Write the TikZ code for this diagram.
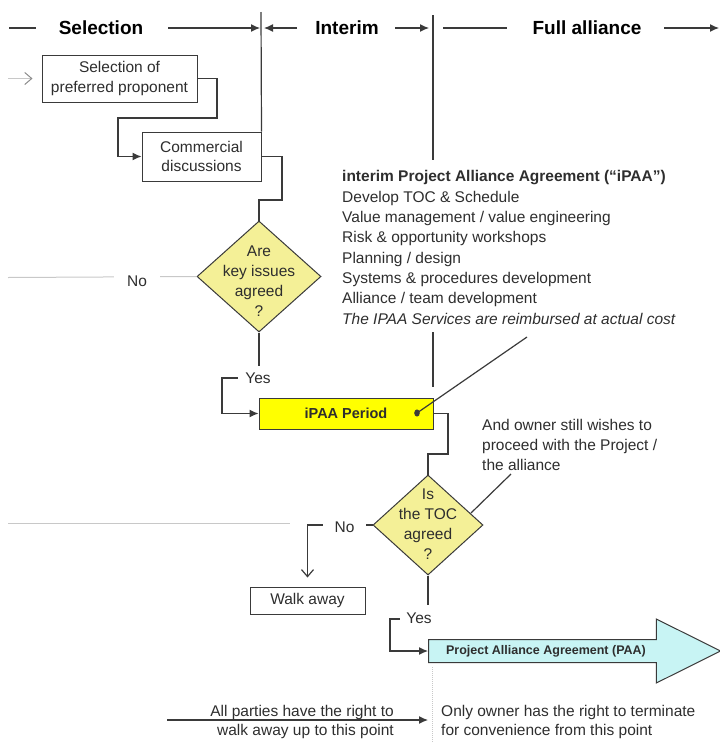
\documentclass[tikz,border=0pt]{standalone}
\usepackage{fontspec}
\setmainfont{Liberation Sans}
\usetikzlibrary{shapes.geometric,shapes.arrows,arrows.meta}
\definecolor{ink}{HTML}{2E2E2E}
\definecolor{edge}{HTML}{3A3A3A}
\definecolor{faint}{HTML}{C8C8C8}
\definecolor{entrytip}{HTML}{8A8A8A}
\definecolor{decfill}{HTML}{F4F097}
\definecolor{periodfill}{HTML}{FFFF00}
\definecolor{paafill}{HTML}{C8F4F4}
\newcommand\sz[2]{\fontsize{#1}{#2}\selectfont}

\begin{document}
\begin{tikzpicture}[x=1pt,y=-1pt,
  every node/.style={text=ink, inner sep=0pt},
  phase/.style={font=\bfseries\sz{19}{22}, text=black},
  stepbox/.style={draw=edge, line width=1pt, fill=white, align=center, font=\sz{15.5}{19.5}},
  decision/.style={diamond, draw=edge, line width=1pt, fill=decfill},
  dectext/.style={align=center, font=\sz{15.5}{19.8}},
  note/.style={align=left, font=\sz{15.5}{20.3}},
  answer/.style={fill=white, font=\sz{15.5}{18}},
  link/.style={draw=edge, line width=1.2pt},
  flow/.style={link, -{Latex[length=9pt,width=8pt]}},
  barb/.style={-{Straight Barb[length=7pt,width=12pt]}},
  faintline/.style={draw=faint, line width=1pt},
  hdrline/.style={draw=edge, line width=1.2pt},
  hdrtip/.style={-{Latex[length=9pt,width=8pt]}},
]
\useasboundingbox (0,0) rectangle (720,742);

% ---- phase headings ----
\node[phase] (hsel) at (101,28) {Selection};
\node[phase] (hint) at (347,28) {Interim};
\node[phase] (hfull) at (587,28) {Full alliance};

\coordinate (hl0) at (9,28);   \coordinate (hl1) at (36,28);
\coordinate (hs1) at (168,28); \coordinate (hs2) at (260,28);
\coordinate (hi1) at (264,28); \coordinate (hi2) at (297,28);
\coordinate (hi3) at (395,28); \coordinate (hi4) at (429,28);
\coordinate (hf1) at (443,28); \coordinate (hf2) at (507,28);
\coordinate (hf3) at (664,28); \coordinate (hf4) at (719,28);

\draw[hdrline] (hl0) -- (hl1);
\draw[hdrline, hdrtip] (hs1) -- (hs2);
\draw[hdrline, hdrtip] (hi2) -- (hi1);
\draw[hdrline, hdrtip] (hi3) -- (hi4);
\draw[hdrline] (hf1) -- (hf2);
\draw[hdrline, hdrtip] (hf3) -- (hf4);

% ---- process boxes ----
\node[stepbox, minimum width=155pt, minimum height=47pt] (sel) at (119.5,78.5) {Selection of\\preferred proponent};
\node[stepbox, minimum width=119pt, minimum height=49pt] (comm) at (201.5,156.5) {Commercial\\discussions};
\node[decision, minimum width=124pt, minimum height=111pt] (d1) at (259,276.5) {};
\node[dectext] (d1text) at (259,281) {Are\\key issues\\agreed\\?};
\node[stepbox, fill=periodfill, minimum width=174pt, minimum height=31pt, font=\bfseries\sz{14.5}{17}] (ipaa) at (346,413.5) {iPAA Period};
\node[decision, minimum width=110pt, minimum height=100pt] (d2) at (428,525) {};
\node[dectext] (d2text) at (428,524) {Is\\the TOC\\agreed\\?};
\node[stepbox, minimum width=115pt, minimum height=27pt] (walk) at (307.5,600.5) {Walk away};
\node[single arrow, draw=edge, line width=1pt, fill=paafill, minimum height=292pt,
      single arrow head extend=20.5pt, single arrow tip angle=53, inner ysep=11pt,
      anchor=tail] (paa) at (428,651) {};
\node[font=\bfseries\sz{12.5}{15}] (paatext) at (546,651) {Project Alliance Agreement (PAA)};

% ---- phase dividers ----
\coordinate (dA0) at (261,12);
\coordinate (dB0) at (433,15); \coordinate (dB1) at (433,160);
\coordinate (dB2) at (433,332); \coordinate (dB3) at (433,387);
\coordinate (dB4) at (432,667); \coordinate (dB5) at (432,742);
\draw[hdrline] (dA0) -- (comm.north east);
\draw[hdrline] (dB0) -- (dB1);
\draw[hdrline] (dB2) -- (dB3);
\draw[draw=faint, line width=1pt, densely dotted] (dB4) -- (dB5);

% ---- flow ----
\coordinate (entry) at (8,78.5);
\draw[faintline, -{Straight Barb[length=7pt,width=12pt,color=entrytip]}, shorten >=9pt] (entry) -- (sel.west);
\draw[flow] (sel.east) -| (217,118) -| (118,156.5) -- (comm.west);
\draw[link] (comm.east) -| (282,200) -| (d1.north);

% first decision: No (faint) and Yes
\coordinate (nofar1) at (8,277.5);
\draw[faintline] (d1.west) -- (nofar1);
\node[answer, inner xsep=13pt, inner ysep=3pt] (no1) at (137,281) {No};
\draw[flow] (d1.south) |- (222,378) |- (ipaa.west);
\node[answer, inner xsep=7pt, inner ysep=7pt] (yes1) at (258,378) {Yes};

% note on the interim agreement
\node[note, anchor=north west] (ipaanote) at (342,170.5) {\textbf{interim Project Alliance Agreement (“iPAA”)}\\
Develop TOC \& Schedule\\
Value management / value engineering\\
Risk \& opportunity workshops\\
Planning / design\\
Systems \& procedures development\\
Alliance / team development\\
\textit{The IPAA Services are reimbursed at actual cost}};
\coordinate (ptr) at (527,337);
\coordinate (dot) at (417,413);
\draw[link] (ptr) -- (dot);
\fill[edge] (dot) ellipse (2.8 and 3.6);

\draw[link] (ipaa.east) -| (448,454) -| (d2.north);

% second decision
\node[note, anchor=west] (ownernote) at (482,445) {And owner still wishes to\\proceed with the Project /\\the alliance};
\coordinate (oa) at (511,474);
\coordinate (ob) at (471,513);
\draw[link] (oa) -- (ob);

\coordinate (nofar2a) at (8,523);
\coordinate (nofar2b) at (290,523);
\draw[faintline] (nofar2a) -- (nofar2b);
\draw[link, barb, shorten >=9pt] (d2.west) -| (walk.north);
\node[answer, inner xsep=11.5pt, inner ysep=3pt] (no2) at (344.5,527) {No};

\draw[flow] (d2.south) |- (390,619) |- (paa.tail);
\node[answer, inner xsep=6pt, inner ysep=8pt] (yes2) at (419,618) {Yes};

% ---- rights at the bottom ----
\coordinate (rs) at (167,720);
\coordinate (re) at (428,720);
\draw[flow] (rs) -- (re);
\node[note, align=right, anchor=east, font=\sz{15.5}{19}] (allright) at (394,722) {All parties have the right to\\walk away up to this point};
\node[note, anchor=west, font=\sz{15.5}{19}] (ownright) at (441,722) {Only owner has the right to terminate\\for convenience from this point};
\end{tikzpicture}
\end{document}
